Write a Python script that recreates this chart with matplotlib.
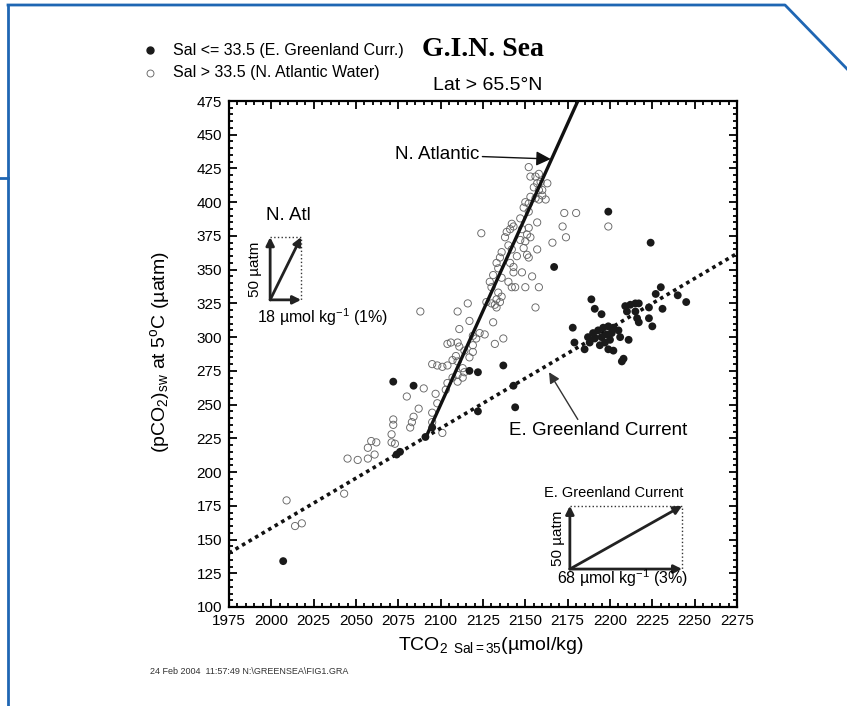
import numpy as np
import matplotlib
matplotlib.use("Agg")
import matplotlib.pyplot as plt
from matplotlib.lines import Line2D

plt.rcParams['font.family'] = ['Liberation Sans', 'DejaVu Sans']
plt.rcParams['mathtext.fontset'] = 'custom'
plt.rcParams['mathtext.rm'] = 'Liberation Sans'
plt.rcParams['mathtext.it'] = 'Liberation Sans:italic'

# E. Greenland Current samples (Sal <= 33.5)
egc_tco2 = [2007, 2072, 2084, 2117, 2122, 2137, 2144, 2122, 2143, 2095, 2091, 2076, 2074,
            2167, 2199, 2224, 2189, 2191, 2195, 2178, 2179, 2185, 2188, 2190, 2193, 2196,
            2199, 2202, 2205, 2191, 2195, 2198, 2201, 2194, 2197, 2199, 2202, 2206, 2211,
            2207, 2208, 2209, 2215, 2217, 2210, 2215, 2216, 2217, 2223, 2225, 2223, 2227,
            2230, 2231, 2240, 2245, 2187, 2200, 2212]
egc_pco2 = [134, 267, 264, 275, 274, 279, 248, 245, 264, 233, 226, 215, 213,
            352, 393, 370, 328, 321, 317, 307, 296, 291, 296, 303, 305, 307,
            308, 307, 305, 299, 300, 302, 303, 294, 296, 291, 290, 300, 298,
            282, 284, 323, 325, 325, 319, 319, 314, 311, 314, 308, 322, 332,
            337, 321, 331, 326, 300, 298, 324]

# N. Atlantic Water samples (Sal > 33.5)
natl_tco2 = [2152, 2153, 2156, 2158, 2157, 2159, 2163, 2155, 2158, 2160, 2160, 2153, 2156,
             2150, 2152, 2158, 2162, 2149, 2152, 2147, 2157, 2173, 2180, 2172, 2174, 2166,
             2124, 2142, 2143, 2139, 2141, 2138, 2148, 2152, 2151, 2153, 2147, 2150, 2140,
             2136, 2135, 2142, 2145, 2149, 2152, 2157, 2133, 2134, 2141, 2143, 2148, 2154,
             2131, 2129, 2136, 2140, 2142, 2144, 2150, 2158, 2130, 2134, 2136, 2156, 2151,
             2133, 2135, 2132, 2133, 2131, 2123, 2121, 2119, 2137, 2132, 2088, 2110, 2116,
             2117, 2111, 2127, 2126, 2106, 2110, 2104, 2111, 2119, 2119, 2117, 2114, 2095,
             2098, 2101, 2104, 2107, 2110, 2113, 2109, 2110, 2113, 2114, 2110, 2107, 2104,
             2090, 2080, 2097, 2103, 2098, 2087, 2084, 2083, 2082, 2072, 2072, 2071, 2073,
             2062, 2095, 2101, 2095, 2071, 2059, 2057, 2061, 2057, 2045, 2051, 2043, 2009,
             2014, 2018, 2199, 2130, 2143]
natl_pco2 = [426, 419, 419, 421, 414, 415, 414, 411, 409, 409, 405, 404, 403,
             400, 399, 402, 402, 396, 393, 388, 385, 392, 392, 382, 374, 370,
             377, 384, 382, 378, 380, 374, 380, 381, 376, 374, 372, 371, 368,
             363, 359, 365, 360, 366, 359, 365, 355, 351, 355, 352, 348, 345,
             346, 341, 344, 341, 337, 337, 337, 337, 337, 333, 330, 322, 361,
             328, 326, 324, 322, 311, 303, 299, 301, 299, 295, 319, 319, 325,
             312, 306, 326, 302, 296, 296, 295, 293, 294, 289, 285, 290, 280,
             279, 278, 279, 283, 282, 277, 286, 272, 270, 274, 267, 270, 266,
             262, 256, 258, 261, 251, 247, 241, 237, 233, 239, 235, 222, 221,
             222, 237, 229, 244, 228, 223, 218, 213, 210, 210, 209, 184, 179,
             160, 162, 382, 325, 348]

# regression lines (end points)
natl_line_x = [2091, 2181]
natl_line_y = [225, 475]
egc_line_x = [1975, 2275]
egc_line_y = [140, 362]

fig = plt.figure(figsize=(8.47, 7.06), dpi=100)
W, H = 847, 706
ax = fig.add_axes([229 / W, 1 - 607 / H, 508 / W, 506 / H])

ax.plot(natl_line_x, natl_line_y, color='#111111', lw=2.4, solid_capstyle='butt', zorder=3)
ax.plot(egc_line_x, egc_line_y, color='#111111', lw=2.6, linestyle=(0, (1.0, 1.1)), zorder=3)

ax.scatter(natl_tco2, natl_pco2, s=27, facecolors='none', edgecolors='#666666',
           linewidths=0.65, zorder=2)
ax.scatter(egc_tco2, egc_pco2, s=32, color='#1a1a1a', edgecolors='none', zorder=4)

ax.set_xlim(1975, 2275)
ax.set_ylim(100, 475)
ax.set_xticks(np.arange(1975, 2276, 25))
ax.set_yticks(np.arange(100, 476, 25))
ax.set_xticks(np.arange(1975, 2276, 5), minor=True)
ax.set_yticks(np.arange(100, 476, 5), minor=True)
ax.tick_params(which='both', direction='in', top=True, right=True, labelsize=11, width=1.3)
ax.tick_params(which='major', length=6, pad=5)
ax.tick_params(which='minor', length=3)
for s in ax.spines.values():
    s.set_linewidth(1.6)

# line annotations
ax.annotate('N. Atlantic', xy=(2165, 432), xytext=(2123, 435), ha='right', va='center',
            fontsize=13.5,
            arrowprops=dict(arrowstyle='-|>', color='#111111', lw=1, mutation_scale=22,
                            shrinkA=0, shrinkB=0))
ax.annotate('', xy=(2164, 274), xytext=(2181, 239),
            arrowprops=dict(arrowstyle='-|>', color='#333333', lw=1, mutation_scale=16,
                            shrinkA=0, shrinkB=0))
ax.text(2193, 231, 'E. Greenland Current', ha='center', va='center', fontsize=13.5)

# inset: N. Atl scale vectors
arr = dict(arrowstyle='-|>', color='#222222', lw=2, mutation_scale=12, shrinkA=0, shrinkB=0)
o, t, r = (0.081, 0.607), 0.731, 0.142
for tip in [(o[0], t), (r, o[1]), (r, t)]:
    ax.annotate('', xy=tip, xytext=o, xycoords='axes fraction', textcoords='axes fraction',
                arrowprops=arr)
ax.plot([o[0], r, r], [t, t, o[1]], transform=ax.transAxes, color='#333333', lw=1,
        linestyle=':', clip_on=False)
ax.text(0.116, 0.773, 'N. Atl', transform=ax.transAxes, ha='center', va='center', fontsize=13.5)
ax.text(0.052, 0.668, '50 µatm', transform=ax.transAxes, ha='center', va='center',
        rotation=90, fontsize=11)
ax.text(0.055, 0.573, '18 µmol kg$^{\\mathrm{-1}}$ (1%)', transform=ax.transAxes,
        ha='left', va='center', fontsize=11.5)

# inset: E. Greenland scale vectors
o2, t2, r2 = (0.671, 0.075), 0.200, 0.892
for tip in [(o2[0], t2), (r2, o2[1]), (r2, t2)]:
    ax.annotate('', xy=tip, xytext=o2, xycoords='axes fraction', textcoords='axes fraction',
                arrowprops=arr)
ax.plot([o2[0], r2, r2], [t2, t2, o2[1]], transform=ax.transAxes, color='#333333', lw=1,
        linestyle=':', clip_on=False)
ax.text(0.757, 0.225, 'E. Greenland Current', transform=ax.transAxes, ha='center',
        va='center', fontsize=10.5)
ax.text(0.648, 0.136, '50 µatm', transform=ax.transAxes, ha='center', va='center',
        rotation=90, fontsize=11)
ax.text(0.774, 0.057, '68 µmol kg$^{\\mathrm{-1}}$ (3%)', transform=ax.transAxes,
        ha='center', va='center', fontsize=11.5)

# axis labels
fig.text(491 / W, 1 - 646 / H, 'TCO$_2$ $_{\\mathrm{Sal=35}}$(µmol/kg)', ha='center',
         va='center', fontsize=14)
fig.text(160 / W, 1 - 352 / H, '(pCO$_2$)$_{\\mathrm{sw}}$ at 5$^{\\mathrm{o}}$C (µatm)',
         ha='center', va='center', rotation=90, fontsize=14)

# title block and legend
fig.text(483 / W, 1 - 50 / H, 'G.I.N. Sea', family='Liberation Serif', weight='bold',
         ha='center', va='center', fontsize=20)
fig.text(488 / W, 1 - 85 / H, 'Lat > 65.5°N', ha='center', va='center', fontsize=14)
fig.add_artist(Line2D([150 / W], [1 - 50 / H], marker='o', markersize=5, color='#1a1a1a',
                      linestyle='none'))
fig.add_artist(Line2D([150 / W], [1 - 73 / H], marker='o', markersize=5, markerfacecolor='none',
                      markeredgecolor='#666666', markeredgewidth=0.65, linestyle='none'))
fig.text(173 / W, 1 - 50 / H, 'Sal <= 33.5 (E. Greenland Curr.)', ha='left', va='center',
         fontsize=11.5)
fig.text(173 / W, 1 - 73 / H, 'Sal > 33.5 (N. Atlantic Water)', ha='left', va='center',
         fontsize=11.5)
fig.text(150 / W, 1 - 672 / H, '24 Feb 2004  11:57:49 N:\\GREENSEA\\FIG1.GRA', ha='left',
         va='center', fontsize=6.5, color='#333333')

# blue page frame
blue = '#1f66b3'
fig.add_artist(Line2D([8 / W, 785 / W, 850 / W], [1 - 5 / H, 1 - 5 / H, 1 - 72 / H],
                      color=blue, lw=2))
fig.add_artist(Line2D([8 / W, 8 / W], [1 - 5 / H, 0], color=blue, lw=2))
fig.add_artist(Line2D([0, 8 / W], [1 - 178 / H, 1 - 178 / H], color=blue, lw=2))

fig.savefig('out.png', dpi=100)
